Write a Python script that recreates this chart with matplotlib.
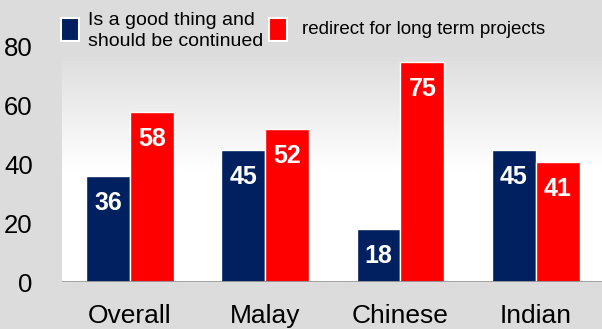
import numpy as np
import matplotlib
matplotlib.use('Agg')
import matplotlib.pyplot as plt
from matplotlib.patches import Rectangle

# Chart data
categories = ['Overall', 'Malay', 'Chinese', 'Indian']
good_thing = [36, 45, 18, 45]
redirect = [58, 52, 75, 41]
yticks = [0, 20, 40, 60, 80]
labels = ['Is a good thing and\nshould be continued', 'redirect for long term projects']

navy = '#002060'
red = '#ff0000'
bg = '#dcdcdc'

plt.rcParams['font.family'] = ['Liberation Sans', 'DejaVu Sans']

W, H = 602, 329
fig = plt.figure(figsize=(W / 100, H / 100), dpi=100, facecolor=bg)
ax = fig.add_axes([62 / W, (H - 282) / H, (W - 62) / W, 235 / H])
ax.set_facecolor('none')

x = np.arange(len(categories))
bw = 0.325
ax.set_xlim(-0.503, 3.49)
ax.set_ylim(0, 80)

# gradient plot area (grey at top, white at bottom)
grad = np.linspace(0, 1, 256).reshape(-1, 1)
ax.imshow(grad, cmap=matplotlib.colors.LinearSegmentedColormap.from_list('g', ['#ffffff', '#ffffff', '#dedede']),
          extent=[-0.503, 3.49, 0, 76.5], aspect='auto', origin='lower', zorder=0)

b1 = ax.bar(x - bw / 2, good_thing, bw, color=navy, edgecolor='white', linewidth=1, zorder=2)
b2 = ax.bar(x + bw / 2, redirect, bw, color=red, edgecolor='white', linewidth=1, zorder=2)

for bars, vals in [(b1, good_thing), (b2, redirect)]:
    for b, v in zip(bars, vals):
        ax.annotate(str(v), xy=(b.get_x() + b.get_width() / 2, v), xytext=(0, -19.5),
                    textcoords='offset points', ha='center', va='center',
                    color='white', fontsize=18, fontweight='bold', zorder=3)

ax.axhline(0, color='#999999', linewidth=2, zorder=4)

for s in ax.spines.values():
    s.set_visible(False)
ax.set_yticks(yticks)
ax.set_yticklabels([str(t) for t in yticks], fontsize=18.5)
ax.set_xticks(x)
ax.set_xticklabels(categories, fontsize=19)
ax.tick_params(axis='both', length=0)
ax.tick_params(axis='y', pad=21)
ax.tick_params(axis='x', pad=16)

# legend
fig.add_artist(Rectangle((61 / W, 1 - 41 / H), 18 / W, 23 / H, transform=fig.transFigure,
                         facecolor=navy, edgecolor='white', linewidth=1.5))
fig.text(88 / W, 1 - 31 / H, labels[0], fontsize=14, va='center', ha='left', linespacing=1.3)
fig.add_artist(Rectangle((269 / W, 1 - 41 / H), 18 / W, 23 / H, transform=fig.transFigure,
                         facecolor=red, edgecolor='white', linewidth=1.5))
fig.text(302 / W, 1 - 29 / H, labels[1], fontsize=13.5, va='center', ha='left')

fig.savefig('out.png', dpi=100, facecolor=bg)
